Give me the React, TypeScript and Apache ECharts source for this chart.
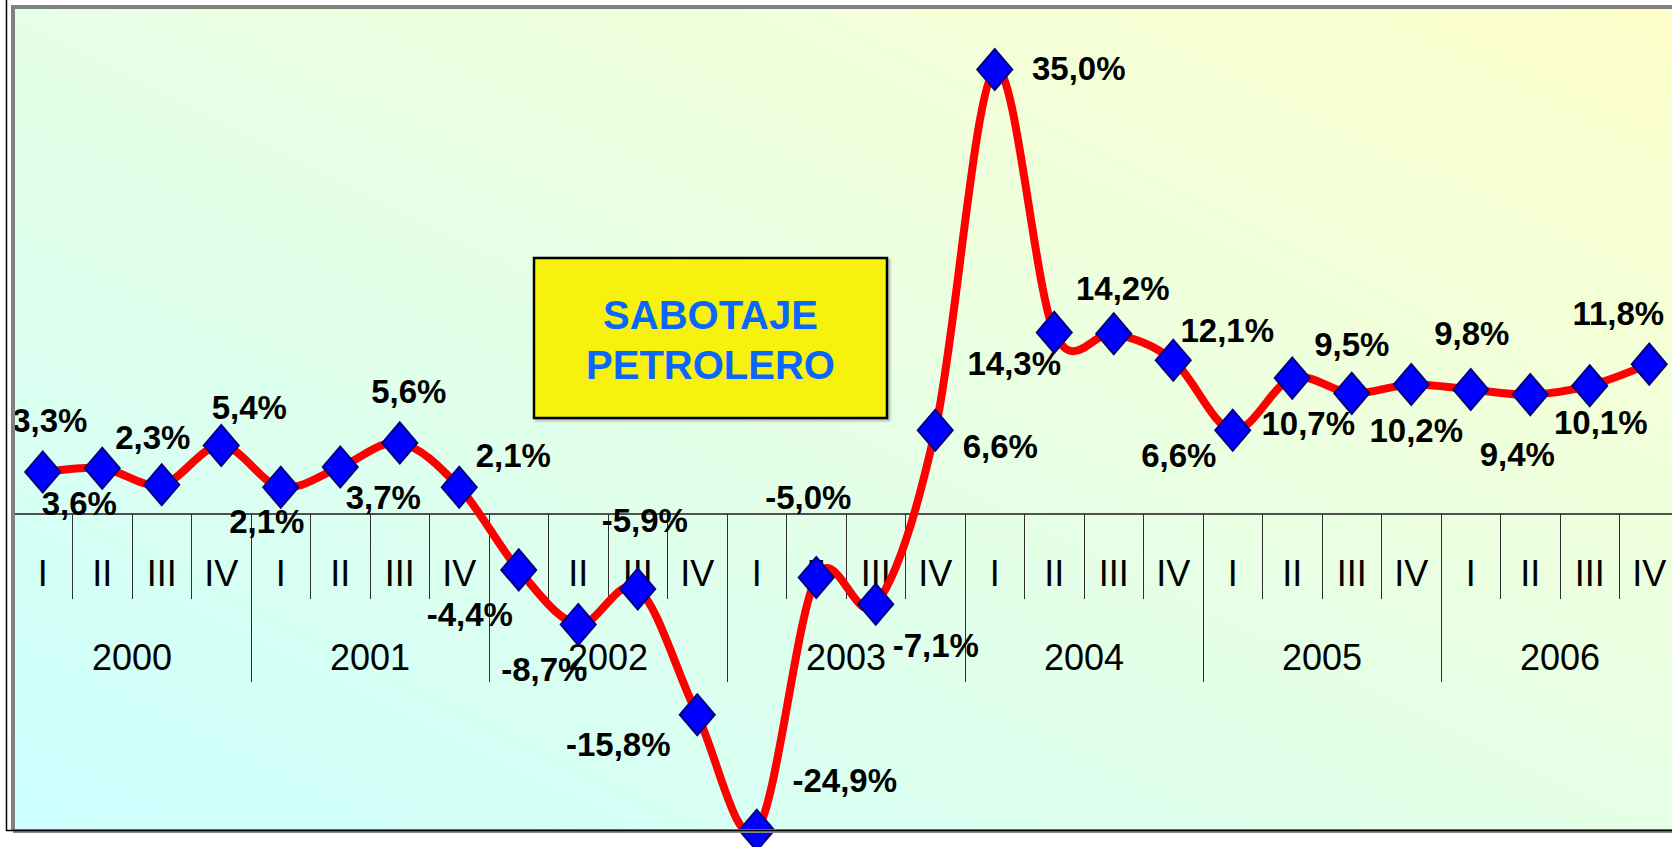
import React, { useEffect, useRef } from 'react';
import * as echarts from 'echarts';

// ---- data ----
const years = ['2000', '2001', '2002', '2003', '2004', '2005', '2006'];
const quarterNames = ['I', 'II', 'III', 'IV'];
const growth = [
  3.3, 3.6, 2.3, 5.4,
  2.1, 3.7, 5.6, 2.1,
  -4.4, -8.7, -5.9, -15.8,
  -24.9, -5.0, -7.1, 6.6,
  35.0, 14.3, 14.2, 12.1,
  6.6, 10.7, 9.5, 10.2,
  9.8, 9.4, 10.1, 11.8,
];
const annotationLines = ['SABOTAJE', 'PETROLERO'];

// ---- layout: data-label offsets (px) relative to each marker ----
const labelOffsets: number[][] = [
  [7, -52], [-23, 35], [-9, -47], [28, -38],
  [-14, 34], [43, 30], [9, -51], [54, -32],
  [-49, 45], [-34, 45], [7, -68], [-79, 30],
  [88, -50], [-8, -80], [60, 41], [65, 16],
  [84, -1], [-40, 31], [9, -45], [54, -30],
  [-54, 25], [16, 45], [0, -49], [5, 46],
  [1, -56], [-13, 60], [11, 37], [-31, -51],
];

const axisFont = "'Liberation Sans', Arial, sans-serif";
const boldFont = "'Liberation Sans', Arial, sans-serif";

// layout constants
const GRID_TOP = 6;
const GRID_HEIGHT = 825.5;
const Y_MIN = -25;
const Y_MAX = 40;
const ZERO_SHIFT = -(GRID_HEIGHT * (0 - Y_MIN)) / (Y_MAX - Y_MIN); // move axis from grid bottom to value 0

export default function App() {
  const ref = useRef<HTMLDivElement>(null);

  useEffect(() => {
    const chart = echarts.init(ref.current!, null, { renderer: 'svg' });
    const categories = years.flatMap((y) => quarterNames.map((q) => `${y}-${q}`));
    const fmt = (v: number) => `${v.toFixed(1).replace('.', ',')}%`;
    const n = growth.length;
    const seriesData = growth.map((v, i) => ({
      value: v,
      label: { offset: labelOffsets[i] },
    }));

    chart.setOption({
      animation: false,
      grid: {
        left: 13,
        top: GRID_TOP,
        width: 1666,
        height: GRID_HEIGHT,
        containLabel: false,
        outerBoundsMode: 'none',
        show: true,
        borderWidth: 0,
        backgroundColor: new echarts.graphic.LinearGradient(0, 1, 1, 0, [
          { offset: 0, color: '#CCFFFF' },
          { offset: 1, color: '#FFFFCC' },
        ]),
      },
      xAxis: [
        {
          type: 'category',
          data: categories,
          position: 'bottom',
          offset: ZERO_SHIFT,
          boundaryGap: true,
          axisLine: {
            show: true,
            onZero: false,
            lineStyle: { color: '#505050', width: 2 },
          },
          axisTick: { show: true, interval: 0, length: 85, lineStyle: { color: '#303030', width: 1 } },
          axisLabel: {
            interval: 0,
            margin: 41,
            formatter: (v: string) => v.split('-')[1],
            color: '#000',
            fontSize: 36,
            fontFamily: axisFont,
            hideOverlap: false,
          },
          splitLine: { show: false },
        },
        {
          type: 'category',
          data: years,
          position: 'bottom',
          offset: ZERO_SHIFT,
          boundaryGap: true,
          axisLine: { show: false, onZero: false },
          axisTick: { show: true, interval: 0, length: 168, lineStyle: { color: '#303030', width: 1 } },
          axisLabel: {
            interval: 0,
            margin: 125,
            color: '#000',
            fontSize: 36,
            fontFamily: axisFont,
            hideOverlap: false,
          },
          splitLine: { show: false },
        },
      ],
      yAxis: {
        type: 'value',
        min: Y_MIN,
        max: Y_MAX,
        show: false,
        splitLine: { show: false },
      },
      series: [
        {
          // smoothed curve (Excel-like cardinal spline), each segment via the axes' coord()
          type: 'custom',
          coordinateSystem: 'cartesian2d',
          xAxisIndex: 0,
          yAxisIndex: 0,
          data: growth.slice(0, -1).map((v, i) => [i, v]),
          encode: { x: 0, y: 1 },
          clip: true,
          silent: true,
          z: 2,
          renderItem: (params: any, api: any) => {
            const i = params.dataIndex;
            const P = (k: number) => {
              const kk = Math.max(0, Math.min(n - 1, k));
              return api.coord([kk, growth[kk]]);
            };
            const p0 = P(i - 1);
            const p1 = P(i);
            const p2 = P(i + 1);
            const p3 = P(i + 2);
            return {
              type: 'bezierCurve',
              shape: {
                x1: p1[0],
                y1: p1[1],
                x2: p2[0],
                y2: p2[1],
                cpx1: p1[0] + (p2[0] - p0[0]) / 6,
                cpy1: p1[1] + (p2[1] - p0[1]) / 6,
                cpx2: p2[0] - (p3[0] - p1[0]) / 6,
                cpy2: p2[1] - (p3[1] - p1[1]) / 6,
              },
              style: { stroke: '#FF0000', lineWidth: 8, fill: null, lineCap: 'round' },
            };
          },
        },
        {
          type: 'line',
          xAxisIndex: 0,
          yAxisIndex: 0,
          data: seriesData,
          symbol: 'diamond',
          symbolSize: [35, 41],
          lineStyle: { opacity: 0, width: 0 },
          itemStyle: { color: '#0000FF', borderColor: '#000080', borderWidth: 2 },
          emphasis: { disabled: true },
          silent: true,
          label: {
            show: true,
            position: 'inside',
            formatter: (p: any) => fmt(p.value as number),
            color: '#000',
            fontSize: 33,
            fontWeight: 'bold',
            fontFamily: boldFont,
          },
          z: 3,
        },
      ],
      graphic: [
        { type: 'rect', z: 100, shape: { x: 11, y: 5, width: 1661, height: 4 }, style: { fill: '#808080' } },
        { type: 'rect', z: 100, shape: { x: 11, y: 5, width: 4, height: 826 }, style: { fill: '#808080' } },
        { type: 'rect', z: 100, shape: { x: 13, y: 829, width: 1659, height: 4 }, style: { fill: '#8A8A8A' } },
        { type: 'line', z: 101, shape: { x1: 6.5, y1: 0, x2: 6.5, y2: 831 }, style: { stroke: '#000', lineWidth: 1.5 } },
        { type: 'line', z: 101, shape: { x1: 6, y1: 830.5, x2: 1672, y2: 830.5 }, style: { stroke: '#000', lineWidth: 1.5 } },
        {
          type: 'group',
          z: 50,
          children: [
            {
              type: 'rect',
              z: 50,
              shape: { x: 534, y: 258, width: 353, height: 160 },
              style: { fill: '#F7F20F', stroke: '#000', lineWidth: 2.5, shadowColor: 'rgba(0,0,0,0.25)', shadowOffsetX: 2, shadowOffsetY: 2, shadowBlur: 2 },
            },
            {
              type: 'text',
              z: 51,
              x: 710.5,
              y: 340,
              style: {
                text: annotationLines.join('\n'),
                fill: '#0A66FF',
                font: `bold 40px ${boldFont}`,
                lineHeight: 50,
                align: 'center',
                verticalAlign: 'middle',
              },
            },
          ],
        },
      ],
    });

    return () => chart.dispose();
  }, []);

  return (
    <div
      ref={ref}
      style={{ position: 'absolute', left: 0, top: 0, width: 1672, height: 847 }}
    />
  );
}
